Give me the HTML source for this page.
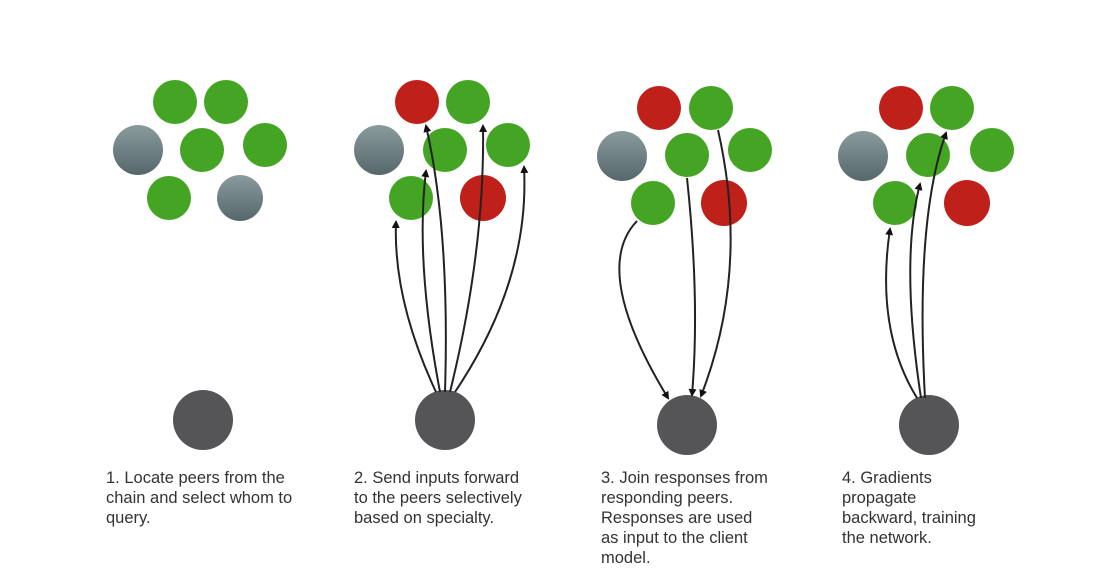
<!DOCTYPE html>
<html><head><meta charset="utf-8"><style>
body{margin:0;background:#fff;width:1105px;height:574px;overflow:hidden;position:relative;font-family:"Liberation Sans",sans-serif}
.t{position:absolute;font-size:16.5px;line-height:20px;color:#333;top:468px}
</style></head><body>
<svg width="1105" height="574" style="position:absolute;left:0;top:0">
<defs>
<linearGradient id="g" x1="0" y1="0" x2="0" y2="1"><stop offset="0" stop-color="#8a9b9e"/><stop offset="1" stop-color="#55676b"/></linearGradient>
<marker id="a" markerWidth="8" markerHeight="8" refX="6" refY="4" orient="auto" markerUnits="userSpaceOnUse"><path d="M0,0 L8,4 L0,8 z" fill="#111"/></marker>
</defs>
<g>
<circle cx="175" cy="102" r="22" fill="#44a423"/>
<circle cx="226" cy="102" r="22" fill="#44a423"/>
<circle cx="138" cy="150" r="25" fill="url(#g)"/>
<circle cx="202" cy="150" r="22" fill="#44a423"/>
<circle cx="265" cy="145" r="22" fill="#44a423"/>
<circle cx="169" cy="198" r="22" fill="#44a423"/>
<circle cx="240" cy="198" r="23" fill="url(#g)"/>
<circle cx="203" cy="420" r="30" fill="#555558"/>
</g>
<g>
<circle cx="417" cy="102" r="22" fill="#c0201a"/>
<circle cx="468" cy="102" r="22" fill="#44a423"/>
<circle cx="379" cy="150" r="25" fill="url(#g)"/>
<circle cx="445" cy="150" r="22" fill="#44a423"/>
<circle cx="508" cy="145" r="22" fill="#44a423"/>
<circle cx="411" cy="198" r="22" fill="#44a423"/>
<circle cx="483" cy="198" r="23" fill="#c0201a"/>
<circle cx="445" cy="420" r="30" fill="#555558"/>
<g fill="none" stroke="#222" stroke-width="2" marker-end="url(#a)">
<path d="M436,392 Q393,300 396,222"/>
<path d="M440,392 Q415,260 426,171"/>
<path d="M445,392 Q450,230 426,126"/>
<path d="M450,392 Q485,250 483,126"/>
<path d="M455,392 Q530,280 524,167"/>
</g>
</g>
<g>
<circle cx="659" cy="108" r="22" fill="#c0201a"/>
<circle cx="711" cy="108" r="22" fill="#44a423"/>
<circle cx="622" cy="156" r="25" fill="url(#g)"/>
<circle cx="687" cy="155" r="22" fill="#44a423"/>
<circle cx="750" cy="150" r="22" fill="#44a423"/>
<circle cx="653" cy="203" r="22" fill="#44a423"/>
<circle cx="724" cy="203" r="23" fill="#c0201a"/>
<circle cx="687" cy="425" r="30" fill="#555558"/>
<g fill="none" stroke="#222" stroke-width="2" marker-end="url(#a)">
<path d="M637,221 Q590,270 668,398"/>
<path d="M687,178 Q700,300 692,395"/>
<path d="M718,130 Q750,270 701,396"/>
</g>
</g>
<g>
<circle cx="901" cy="108" r="22" fill="#c0201a"/>
<circle cx="952" cy="108" r="22" fill="#44a423"/>
<circle cx="863" cy="156" r="25" fill="url(#g)"/>
<circle cx="928" cy="155" r="22" fill="#44a423"/>
<circle cx="992" cy="150" r="22" fill="#44a423"/>
<circle cx="895" cy="203" r="22" fill="#44a423"/>
<circle cx="967" cy="203" r="23" fill="#c0201a"/>
<circle cx="929" cy="425" r="30" fill="#555558"/>
<g fill="none" stroke="#222" stroke-width="2" marker-end="url(#a)">
<path d="M917,398 Q875,330 890,229"/>
<path d="M921,398 Q900,260 920,184"/>
<path d="M925,398 Q915,220 946,133"/>
</g>
</g>
</svg>
<div class="t" style="left:106px">1. Locate peers from the<br>chain and select whom to<br>query.</div>
<div class="t" style="left:354px">2. Send inputs forward<br>to the peers selectively<br>based on specialty.</div>
<div class="t" style="left:601px">3. Join responses from<br>responding peers.<br>Responses are used<br>as input to the client<br>model.</div>
<div class="t" style="left:842px">4. Gradients<br>propagate<br>backward, training<br>the network.</div>
</body></html>
